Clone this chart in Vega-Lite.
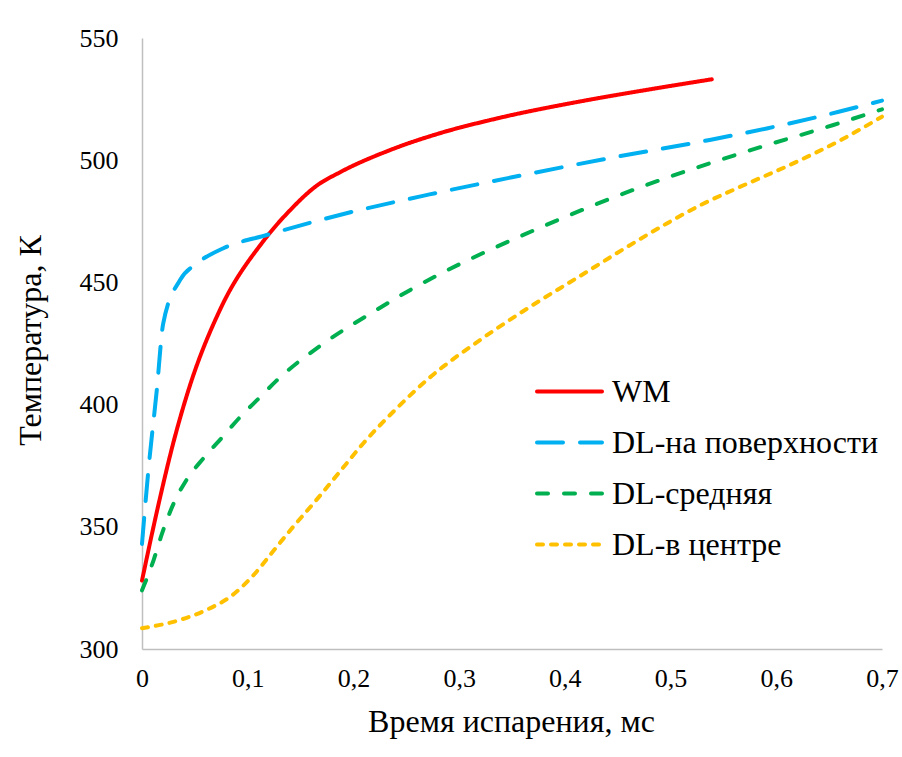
{
  "$schema": "https://vega.github.io/schema/vega-lite/v6.json",
  "width": 740,
  "height": 611,
  "autosize": {"type": "none"},
  "padding": {"left": 142, "top": 38, "right": 20, "bottom": 108},
  "background": "white",
  "config": {
    "view": {"stroke": null},
    "font": "Liberation Serif"
  },
  "data": {
    "values": [
      {"s": "WM", "t": 0, "T": 328},
      {"s": "WM", "t": 0.015, "T": 358},
      {"s": "WM", "t": 0.03, "T": 385},
      {"s": "WM", "t": 0.044, "T": 406},
      {"s": "WM", "t": 0.074, "T": 439},
      {"s": "WM", "t": 0.115, "T": 467},
      {"s": "WM", "t": 0.14, "T": 479.5},
      {"s": "WM", "t": 0.165, "T": 489.5},
      {"s": "WM", "t": 0.187, "T": 495},
      {"s": "WM", "t": 0.235, "T": 504.2},
      {"s": "WM", "t": 0.28, "T": 510.8},
      {"s": "WM", "t": 0.335, "T": 517},
      {"s": "WM", "t": 0.414, "T": 524},
      {"s": "WM", "t": 0.475, "T": 528.6},
      {"s": "WM", "t": 0.539, "T": 533.1},

      {"s": "DL-на поверхности", "t": 0, "T": 343},
      {"s": "DL-на поверхности", "t": 0.006, "T": 373},
      {"s": "DL-на поверхности", "t": 0.014, "T": 406},
      {"s": "DL-на поверхности", "t": 0.02, "T": 433},
      {"s": "DL-на поверхности", "t": 0.036, "T": 451},
      {"s": "DL-на поверхности", "t": 0.052, "T": 457.8},
      {"s": "DL-на поверхности", "t": 0.077, "T": 464},
      {"s": "DL-на поверхности", "t": 0.118, "T": 469.4},
      {"s": "DL-на поверхности", "t": 0.187, "T": 477.6},
      {"s": "DL-на поверхности", "t": 0.272, "T": 486},
      {"s": "DL-на поверхности", "t": 0.35, "T": 493},
      {"s": "DL-на поверхности", "t": 0.433, "T": 500.1},
      {"s": "DL-на поверхности", "t": 0.537, "T": 508.3},
      {"s": "DL-на поверхности", "t": 0.591, "T": 513},
      {"s": "DL-на поверхности", "t": 0.66, "T": 519.9},
      {"s": "DL-на поверхности", "t": 0.7, "T": 524.4},

      {"s": "DL-средняя", "t": 0, "T": 324},
      {"s": "DL-средняя", "t": 0.011, "T": 336.4},
      {"s": "DL-средняя", "t": 0.019, "T": 347.3},
      {"s": "DL-средняя", "t": 0.03, "T": 359.6},
      {"s": "DL-средняя", "t": 0.042, "T": 369.1},
      {"s": "DL-средняя", "t": 0.058, "T": 378},
      {"s": "DL-средняя", "t": 0.075, "T": 386.2},
      {"s": "DL-средняя", "t": 0.093, "T": 395},
      {"s": "DL-средняя", "t": 0.112, "T": 403.2},
      {"s": "DL-средняя", "t": 0.127, "T": 409.7},
      {"s": "DL-средняя", "t": 0.172, "T": 425.1},
      {"s": "DL-средняя", "t": 0.219, "T": 438},
      {"s": "DL-средняя", "t": 0.25, "T": 446},
      {"s": "DL-средняя", "t": 0.282, "T": 453.5},
      {"s": "DL-средняя", "t": 0.33, "T": 463.5},
      {"s": "DL-средняя", "t": 0.377, "T": 472.5},
      {"s": "DL-средняя", "t": 0.424, "T": 481},
      {"s": "DL-средняя", "t": 0.475, "T": 489.5},
      {"s": "DL-средняя", "t": 0.525, "T": 497},
      {"s": "DL-средняя", "t": 0.575, "T": 504},
      {"s": "DL-средняя", "t": 0.654, "T": 514.4},
      {"s": "DL-средняя", "t": 0.7, "T": 520.8},

      {"s": "DL-в центре", "t": 0, "T": 308.5},
      {"s": "DL-в центре", "t": 0.036, "T": 311.9},
      {"s": "DL-в центре", "t": 0.061, "T": 316},
      {"s": "DL-в центре", "t": 0.086, "T": 322.2},
      {"s": "DL-в центре", "t": 0.105, "T": 330},
      {"s": "DL-в центре", "t": 0.124, "T": 340},
      {"s": "DL-в центре", "t": 0.143, "T": 350},
      {"s": "DL-в центре", "t": 0.165, "T": 361},
      {"s": "DL-в центре", "t": 0.187, "T": 372.5},
      {"s": "DL-в центре", "t": 0.209, "T": 384},
      {"s": "DL-в центре", "t": 0.241, "T": 398.5},
      {"s": "DL-в центре", "t": 0.272, "T": 411},
      {"s": "DL-в центре", "t": 0.32, "T": 426.5},
      {"s": "DL-в центре", "t": 0.367, "T": 440},
      {"s": "DL-в центре", "t": 0.414, "T": 452.5},
      {"s": "DL-в центре", "t": 0.455, "T": 463.5},
      {"s": "DL-в центре", "t": 0.496, "T": 474},
      {"s": "DL-в центре", "t": 0.53, "T": 482},
      {"s": "DL-в центре", "t": 0.559, "T": 487.8},
      {"s": "DL-в центре", "t": 0.616, "T": 498.7},
      {"s": "DL-в центре", "t": 0.66, "T": 508},
      {"s": "DL-в центре", "t": 0.7, "T": 517.8}
    ]
  },
  "mark": {"type": "line", "interpolate": "monotone", "strokeWidth": 4, "strokeCap": "round", "clip": false},
  "encoding": {
    "x": {
      "field": "t", "type": "quantitative",
      "scale": {"domain": [0, 0.7], "nice": false, "zero": false},
      "axis": {
        "title": "Время испарения, мс",
        "values": [0, 0.1, 0.2, 0.3, 0.4, 0.5, 0.6, 0.7],
        "labelExpr": "datum.value == 0 ? '0' : replace(format(datum.value, '.1f'), '.', ',')",
        "grid": false, "ticks": false,
        "domainColor": "#BFBFBF", "domainWidth": 1.5,
        "labelFont": "Liberation Serif", "labelFontSize": 26, "labelColor": "#000000",
        "labelPadding": 16, "labelFlush": false, "labelOverlap": false,
        "titleFont": "Liberation Serif", "titleFontSize": 32, "titleFontWeight": "normal", "titleColor": "#000000",
        "titleX": 369, "titleY": 72, "titleBaseline": "middle", "titleAlign": "center"
      }
    },
    "y": {
      "field": "T", "type": "quantitative",
      "scale": {"domain": [300, 550], "nice": false, "zero": false},
      "axis": {
        "title": "Температура, К",
        "values": [300, 350, 400, 450, 500, 550],
        "grid": false, "ticks": false,
        "domainColor": "#BFBFBF", "domainWidth": 1.5,
        "labelFont": "Liberation Serif", "labelFontSize": 26, "labelColor": "#000000",
        "labelPadding": 24, "labelFlush": false, "labelOverlap": false,
        "titleFont": "Liberation Serif", "titleFontSize": 32, "titleFontWeight": "normal", "titleColor": "#000000",
        "titleX": -112, "titleY": 302, "titleAngle": -90, "titleBaseline": "middle", "titleAlign": "center"
      }
    },
    "color": {
      "field": "s", "type": "nominal",
      "scale": {
        "domain": ["WM", "DL-на поверхности", "DL-средняя", "DL-в центре"],
        "range": ["#FF0000", "#00B0F0", "#00B050", "#FFC000"]
      },
      "legend": {
        "title": null,
        "orient": "none",
        "legendX": 393,
        "legendY": 319,
        "symbolType": "stroke",
        "symbolSize": 4225,
        "symbolStrokeWidth": 4,
        "labelFont": "Liberation Serif",
        "labelFontSize": 32,
        "labelColor": "#000000",
        "labelOffset": 8,
        "rowPadding": 0,
        "labelLimit": 400,
        "encode": {
          "symbols": {"update": {"strokeCap": {"value": "round"}}}
        }
      }
    },
    "strokeDash": {
      "field": "s", "type": "nominal",
      "scale": {
        "domain": ["WM", "DL-на поверхности", "DL-средняя", "DL-в центре"],
        "range": [[1, 0], [26, 17], [11, 16], [6, 8]]
      },
      "legend": null
    }
  }
}
